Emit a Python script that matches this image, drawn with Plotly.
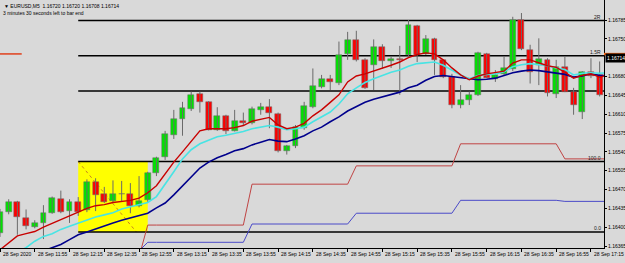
import plotly.graph_objects as go
import pandas as pd

# ---------------- data ----------------
bar_times = pd.date_range("2020-09-28 11:35", periods=71, freq="5min")

open_ = [1.16389, 1.16428, 1.16446, 1.16418, 1.16401, 1.16407, 1.16427, 1.16452, 1.16430, 1.16447,
         1.16432, 1.16484, 1.16462, 1.16448, 1.16462, 1.16461, 1.16440, 1.16450, 1.16500, 1.16530,
         1.16572, 1.16602, 1.16620, 1.16647, 1.16632, 1.16581, 1.16607, 1.16579, 1.16598, 1.16594,
         1.16618, 1.16624, 1.16611, 1.16542, 1.16551, 1.16585, 1.16624, 1.16661, 1.16676, 1.16668,
         1.16721, 1.16748, 1.16711, 1.16701, 1.16735, 1.16709, 1.16712, 1.16720, 1.16774, 1.16721,
         1.16749, 1.16710, 1.16680, 1.16628, 1.16636, 1.16646, 1.16722, 1.16676, 1.16684, 1.16694,
         1.16785, 1.16730, 1.16701, 1.16711, 1.16647, 1.16698, 1.16651, 1.16614, 1.16689, 1.16683,
         1.16720]
high = [1.16434, 1.16452, 1.16449, 1.16433, 1.16413, 1.16441, 1.16457, 1.16468, 1.16452, 1.16456,
        1.16489, 1.16491, 1.16475, 1.16487, 1.16486, 1.16482, 1.16495, 1.16503, 1.16531, 1.16579,
        1.16618, 1.16633, 1.16652, 1.16652, 1.16634, 1.16623, 1.16609, 1.16618, 1.16613, 1.16624,
        1.16631, 1.16638, 1.16613, 1.16553, 1.16590, 1.16633, 1.16695, 1.16683, 1.16683, 1.16745,
        1.16763, 1.16765, 1.16714, 1.16749, 1.16740, 1.16718, 1.16737, 1.16785, 1.16776, 1.16757,
        1.16752, 1.16711, 1.16685, 1.16664, 1.16652, 1.16726, 1.16724, 1.16692, 1.16717, 1.16791,
        1.16798, 1.16739, 1.16751, 1.16714, 1.16711, 1.16717, 1.16659, 1.16690, 1.16714, 1.16708,
        1.16720]
low = [1.16382, 1.16424, 1.16386, 1.16396, 1.16398, 1.16378, 1.16425, 1.16426, 1.16408, 1.16421,
       1.16428, 1.16430, 1.16445, 1.16446, 1.16447, 1.16426, 1.16437, 1.16447, 1.16495, 1.16525,
       1.16564, 1.16570, 1.16616, 1.16613, 1.16580, 1.16579, 1.16573, 1.16578, 1.16590, 1.16591,
       1.16609, 1.16584, 1.16539, 1.16535, 1.16547, 1.16581, 1.16621, 1.16658, 1.16655, 1.16664,
       1.16711, 1.16708, 1.16657, 1.16655, 1.16695, 1.16696, 1.16646, 1.16718, 1.16707, 1.16720,
       1.16683, 1.16677, 1.16621, 1.16621, 1.16627, 1.16644, 1.16677, 1.16670, 1.16682, 1.16690,
       1.16729, 1.16667, 1.16664, 1.16643, 1.16640, 1.16651, 1.16609, 1.16601, 1.16677, 1.16643,
       1.16708]
close = [1.16429, 1.16447, 1.16419, 1.16402, 1.16408, 1.16427, 1.16454, 1.16429, 1.16446, 1.16428,
         1.16484, 1.16460, 1.16447, 1.16461, 1.16461, 1.16440, 1.16449, 1.16501, 1.16528, 1.16573,
         1.16602, 1.16621, 1.16646, 1.16633, 1.16581, 1.16607, 1.16579, 1.16598, 1.16594, 1.16619,
         1.16623, 1.16612, 1.16542, 1.16551, 1.16586, 1.16625, 1.16662, 1.16675, 1.16669, 1.16720,
         1.16748, 1.16711, 1.16658, 1.16734, 1.16709, 1.16712, 1.16710, 1.16776, 1.16720, 1.16749,
         1.16711, 1.16680, 1.16627, 1.16636, 1.16646, 1.16723, 1.16677, 1.16683, 1.16695, 1.16785,
         1.16731, 1.16689, 1.16712, 1.16649, 1.16697, 1.16652, 1.16627, 1.16689, 1.16681, 1.16646,
         1.16714]

ma_red = [1.16358, 1.16371, 1.16384, 1.16388, 1.16392, 1.16400, 1.16407, 1.16415, 1.16422, 1.16428,
          1.16435, 1.16440, 1.16442, 1.16446, 1.16448, 1.16450, 1.16454, 1.16464, 1.16477, 1.16499,
          1.16521, 1.16540, 1.16560, 1.16579, 1.16583, 1.16583, 1.16583, 1.16585, 1.16589, 1.16597,
          1.16601, 1.16604, 1.16590, 1.16583, 1.16586, 1.16593, 1.16607, 1.16618, 1.16632, 1.16646,
          1.16670, 1.16681, 1.16685, 1.16690, 1.16696, 1.16701, 1.16707, 1.16715, 1.16721, 1.16724,
          1.16722, 1.16711, 1.16696, 1.16683, 1.16674, 1.16681, 1.16685, 1.16687, 1.16690, 1.16705,
          1.16711, 1.16711, 1.16705, 1.16700, 1.16697, 1.16688, 1.16677, 1.16682, 1.16685, 1.16679,
          1.16683]
ma_cyan = [1.16343, 1.16347, 1.16354, 1.16362, 1.16374, 1.16383, 1.16388, 1.16396, 1.16402, 1.16408,
           1.16413, 1.16419, 1.16423, 1.16427, 1.16434, 1.16438, 1.16441, 1.16446, 1.16457, 1.16479,
           1.16503, 1.16527, 1.16544, 1.16555, 1.16562, 1.16568, 1.16571, 1.16574, 1.16578, 1.16583,
           1.16586, 1.16589, 1.16586, 1.16581, 1.16583, 1.16586, 1.16596, 1.16605, 1.16614, 1.16629,
           1.16648, 1.16659, 1.16669, 1.16676, 1.16682, 1.16688, 1.16692, 1.16699, 1.16704, 1.16706,
           1.16707, 1.16701, 1.16692, 1.16683, 1.16676, 1.16682, 1.16684, 1.16685, 1.16689, 1.16698,
           1.16702, 1.16704, 1.16702, 1.16700, 1.16696, 1.16693, 1.16683, 1.16686, 1.16687, 1.16686,
           1.16687]
ma_blue = [1.16324, 1.16330, 1.16335, 1.16341, 1.16350, 1.16356, 1.16362, 1.16368, 1.16377, 1.16386,
           1.16391, 1.16397, 1.16402, 1.16408, 1.16413, 1.16417, 1.16422, 1.16426, 1.16436, 1.16445,
           1.16460, 1.16477, 1.16493, 1.16510, 1.16521, 1.16529, 1.16535, 1.16542, 1.16546, 1.16553,
           1.16558, 1.16563, 1.16560, 1.16559, 1.16564, 1.16570, 1.16579, 1.16586, 1.16596, 1.16605,
           1.16616, 1.16624, 1.16632, 1.16638, 1.16642, 1.16647, 1.16651, 1.16659, 1.16664, 1.16673,
           1.16680, 1.16682, 1.16680, 1.16677, 1.16675, 1.16674, 1.16675, 1.16677, 1.16682, 1.16687,
           1.16690, 1.16692, 1.16691, 1.16689, 1.16687, 1.16684, 1.16679, 1.16681, 1.16685, 1.16682,
           1.16682]

# hourly levels (drawn on the M5 bars of each hour)
h1_hours = [12, 13, 14, 15, 16, 17]
h1_upper = [1.16345, 1.16404, 1.16480, 1.16514, 1.16555, 1.16527]
h1_lower = [1.16356, 1.16372, 1.16406, 1.16426, 1.16450, 1.16448]
h1_first_bar = "2020-09-28 12:55"

# fibonacci / risk levels
fib_start = "2020-09-28 12:20"
fib_end_box = "2020-09-28 13:00"
fib_p0 = 1.16391
fib_p100 = 1.16522
fib_levels = [0, 100, 200, 250, 300]
fib_texts = ["0.0", "100.0", "", "1.5R", "2R"]
diag_end_price = 1.16391
diag_end_bar = 15.7

price_ticks = [1.16365, 1.16400, 1.16435, 1.16470, 1.16505, 1.16540, 1.16575,
               1.16610, 1.16645, 1.16680, 1.16750, 1.16785]
bid_price = 1.16714
ask_price = 1.16722
header1 = "\u25bc EURUSD,M5  1.16720 1.16720 1.16708 1.16714"
header2 = "3 minutes 30 seconds left to bar end"

# ---------------- build ----------------
xi = list(range(len(bar_times)))
idx_of = {t: i for i, t in enumerate(bar_times)}
FONT = "Liberation Sans, Arial, sans-serif"
BG = "#d9d9d9"
WICK = "#6a6a6a"

fig = go.Figure()

# fib rectangle and levels (background objects)
ks = idx_of[pd.Timestamp(fib_start)]
ke = idx_of[pd.Timestamp(fib_end_box)]
fig.add_shape(type="rect", xref="x", yref="y", x0=ks, x1=ke, y0=fib_p0, y1=fib_p100,
              fillcolor="#ffff00", line=dict(width=0), layer="below")
fig.add_shape(type="line", xref="x", yref="y", x0=ks, x1=diag_end_bar, y0=fib_p100, y1=diag_end_price,
              line=dict(color="#c8821e", width=1, dash="dot"), layer="below")
for lv, tx in zip(fib_levels, fib_texts):
    p = fib_p0 + (fib_p100 - fib_p0) * lv / 100.0
    fig.add_shape(type="line", xref="x", yref="y", x0=ks, x1=69.5, y0=p, y1=p,
                  line=dict(color="#000000", width=1.5), layer="below")
    if tx:
        fig.add_annotation(x=1, xref="paper", y=p, yref="y", text=tx, showarrow=False,
                           xanchor="right", yanchor="bottom", xshift=-1, yshift=-1,
                           font=dict(family=FONT, size=5, color="#202020"))

# ask line stub at the left edge
fig.add_shape(type="line", xref="x", yref="y", x0=0, x1=2.5, y0=ask_price, y1=ask_price,
              line=dict(color="#e0401c", width=1.5), layer="below")

# hourly step lines
k0 = idx_of[pd.Timestamp(h1_first_bar)]
hx, hu, hl = [], [], []
for k in range(k0, len(bar_times)):
    j = h1_hours.index(bar_times[k].hour)
    hx.append(k)
    hu.append(h1_upper[j])
    hl.append(h1_lower[j])
fig.add_trace(go.Scatter(x=hx, y=hu, mode="lines", line=dict(color="#c04444", width=1),
                         showlegend=False, hoverinfo="skip"))
fig.add_trace(go.Scatter(x=hx, y=hl, mode="lines", line=dict(color="#4a4ac8", width=1),
                         showlegend=False, hoverinfo="skip"))

# candles: wicks then bodies
wx, wy = [], []
for k in xi:
    wx += [k, k, None]
    wy += [low[k], high[k], None]
fig.add_trace(go.Scatter(x=wx, y=wy, mode="lines", line=dict(color=WICK, width=1),
                         showlegend=False, hoverinfo="skip"))
body_base = [min(o, c) for o, c in zip(open_, close)]
body_len = [max(abs(c - o), 0.000012) for o, c in zip(open_, close)]
body_col = ["#00e400" if c > o else "#ff0000" for o, c in zip(open_, close)]
fig.add_trace(go.Bar(x=xi, y=body_len, base=body_base, width=0.68,
                     marker=dict(color=body_col, line=dict(color=WICK, width=0.5)),
                     showlegend=False, hoverinfo="skip"))

# moving averages
for vals, col, w in [(ma_blue, "#00008c", 1.6), (ma_cyan, "#48e4e4", 1.6), (ma_red, "#c80000", 1.4)]:
    fig.add_trace(go.Scatter(x=xi, y=vals, mode="lines", line=dict(color=col, width=w),
                             showlegend=False, hoverinfo="skip"))

# ask marker and bid label on the price scale
fig.add_shape(type="rect", xref="paper", yref="y", x0=1.0, x1=1.036, y0=ask_price - 0.000025,
              y1=ask_price + 0.00002, fillcolor="#ff6a1a", line=dict(width=0))
fig.add_annotation(x=1, xref="paper", y=bid_price, yref="y", text="1.16714", showarrow=False,
                   xanchor="left", yanchor="middle", xshift=1, bgcolor="#000000",
                   font=dict(family=FONT, size=5, color="#ffffff"), borderpad=1)

# header texts
fig.add_annotation(x=0, xref="paper", y=1, yref="paper", text=header1, showarrow=False,
                   xanchor="left", yanchor="top", xshift=2, yshift=-1,
                   font=dict(family=FONT, size=5, color="#000000"))
fig.add_annotation(x=0, xref="paper", y=1, yref="paper", text=header2, showarrow=False,
                   xanchor="left", yanchor="top", xshift=1, yshift=-8,
                   font=dict(family=FONT, size=5, color="#000000"))

# time labels
tick_pos = list(range(0, len(bar_times) - 1, 4))
for k in tick_pos:
    t = bar_times[k]
    lab = "28 Sep 2020" if k == 0 else t.strftime("%d %b %H:%M")
    fig.add_annotation(x=k, xref="x", y=0, yref="paper", text=lab, showarrow=False,
                       xanchor="left", yanchor="top", xshift=1, yshift=-1,
                       font=dict(family=FONT, size=5, color="#000000"))

fig.update_layout(
    width=625, height=263,
    margin=dict(l=0, r=21, t=0, b=15),
    paper_bgcolor=BG, plot_bgcolor=BG, bargap=0,
    xaxis=dict(range=[0, 69.5], showgrid=False, zeroline=False,
               tickvals=tick_pos, ticks="outside", ticklen=3, tickcolor="#000000",
               showticklabels=False, showline=True, linecolor="#000000", linewidth=1),
    yaxis=dict(range=[1.163614, 1.168222], side="right", showgrid=False, zeroline=False,
               tickvals=price_ticks, tickformat=".5f", ticks="outside", ticklen=2,
               tickcolor="#000000", showline=True, linecolor="#000000", linewidth=1,
               tickfont=dict(family=FONT, size=5, color="#000000")),
    font=dict(family=FONT),
)

fig.write_html("out.html")
